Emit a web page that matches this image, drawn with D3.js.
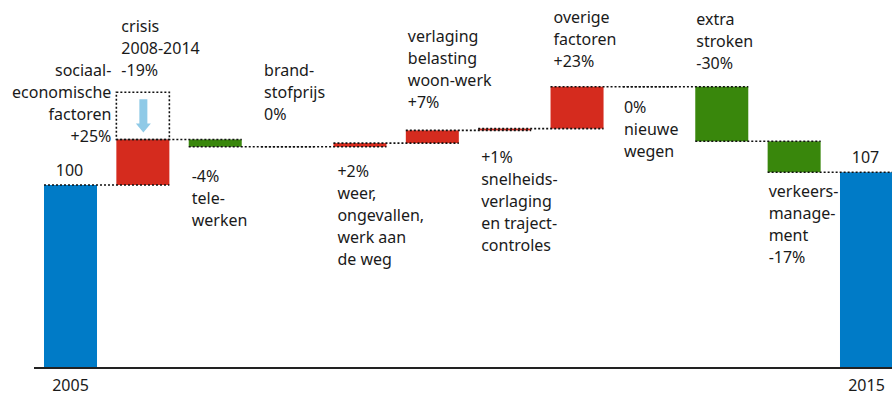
<!DOCTYPE html>
<html>
<head>
<meta charset="utf-8">
<script src="https://cdn.jsdelivr.net/npm/d3@7"></script>
<style>
  body { margin: 0; background: #fff; }
  svg { display: block; }
  text { font-family: "Noto Sans", sans-serif; font-size: 16px; fill: #1a1a1a; }
</style>
</head>
<body>
<svg id="chart" width="892" height="396"></svg>
<script>
// Waterfall: traffic volume index 2005 = 100 -> 2015 = 107
const steps   = ["2005", "sociaal", "tele", "brandstof", "weer", "belasting", "snelheid", "overige", "nieuwe", "stroken", "verkeer", "2015"];
const changes = [100, 25, -4, 0, 2, 7, 1, 23, 0, -30, -17, 107];   // first and last are totals
const kinds   = ["total", "step", "step", "step", "step", "step", "step", "step", "step", "step", "step", "total"];
const yearLabels = ["2005", "", "", "", "", "", "", "", "", "", "", "2015"];

// Crisis effect shown as a ghost box above the socio-economic step
const crisisLabel = ["crisis", "2008-2014", "-19%"];
const crisisBoxTop = 151;

const stepLabels = {
  sociaal:   ["sociaal-", "economische", "factoren", "+25%"],
  tele:      ["-4%", "tele-", "werken"],
  brandstof: ["brand-", "stofprijs", "0%"],
  weer:      ["+2%", "weer,", "ongevallen,", "werk aan", "de weg"],
  belasting: ["verlaging", "belasting", "woon-werk", "+7%"],
  snelheid:  ["+1%", "snelheids-", "verlaging", "en traject-", "controles"],
  overige:   ["overige", "factoren", "+23%"],
  nieuwe:    ["0%", "nieuwe", "wegen"],
  stroken:   ["extra", "stroken", "-30%"],
  verkeer:   ["verkeers-", "manage-", "ment", "-17%"]
};

// ---- layout ----
const W = 892, H = 396;
const colors = { total: "#007bc7", up: "#d52b1e", down: "#39870c", arrow: "#8fcae7" };
const lineH = 22;
// label placement: offset from band start, first baseline, anchor
const labelPos = {
  sociaal:   { dx: -5, y: 76,  anchor: "end" },
  tele:      { dx: 3,  y: 182 },
  brandstof: { dx: 3,  y: 76 },
  weer:      { dx: 4,  y: 177 },
  belasting: { dx: 2,  y: 42 },
  snelheid:  { dx: 3,  y: 163 },
  overige:   { dx: 3,  y: 23 },
  nieuwe:    { dx: 1,  y: 113 },
  stroken:   { dx: 1,  y: 25 },
  verkeer:   { dx: 1,  y: 197 }
};

const svg = d3.select("#chart");

const x = d3.scaleBand().domain(steps).range([44, 893]).paddingInner(0.2675).paddingOuter(0);
const y = d3.scaleLinear().domain([0, 100]).range([367, 185]);

// cumulative levels
let level = 0;
const bars = steps.map((s, i) => {
  let from, to;
  if (kinds[i] === "total") { from = 0; to = changes[i]; level = changes[i]; }
  else { from = level; to = level + changes[i]; level = to; }
  return { key: s, from, to, level: to, change: changes[i], kind: kinds[i] };
});

// bars
svg.append("g").selectAll("rect")
  .data(bars.filter(d => d.from !== d.to))
  .join("rect")
  .attr("x", d => x(d.key))
  .attr("width", x.bandwidth())
  .attr("y", d => y(Math.max(d.from, d.to)))
  .attr("height", d => Math.abs(y(d.from) - y(d.to)))
  .attr("fill", d => d.kind === "total" ? colors.total : (d.change > 0 ? colors.up : colors.down));

// baseline
svg.append("line")
  .attr("x1", 34).attr("x2", W)
  .attr("y1", y(0) + 1).attr("y2", y(0) + 1)
  .attr("stroke", "#222").attr("stroke-width", 2);

// dotted connectors from each bar to the next
const dash = { stroke: "#111", "stroke-width": 1.6, "stroke-dasharray": "2,2" };
const conn = svg.append("g");
bars.slice(0, -1).forEach((d, i) => {
  const next = steps[i + 1];
  const l = conn.append("line")
    .attr("x1", x(d.key)).attr("x2", x(next) + x.bandwidth())
    .attr("y1", y(d.level)).attr("y2", y(d.level));
  Object.entries(dash).forEach(([k, v]) => l.attr(k, v));
});

// crisis ghost box above the socio-economic step
const soc = bars[1];
const box = svg.append("rect")
  .attr("x", x("sociaal")).attr("width", x.bandwidth())
  .attr("y", y(crisisBoxTop)).attr("height", y(soc.to) - y(crisisBoxTop))
  .attr("fill", "none");
Object.entries(dash).forEach(([k, v]) => box.attr(k, v));

// downward arrow inside the box
const cx = x("sociaal") + x.bandwidth() / 2 + 0.5;
const aTop = y(crisisBoxTop) + 7, aTip = y(soc.to) - 7, headH = 9;
svg.append("path")
  .attr("d", `M${cx - 4},${aTop} L${cx + 4},${aTop} L${cx + 4},${aTip - headH} L${cx + 7.5},${aTip - headH}
              L${cx},${aTip} L${cx - 7.5},${aTip - headH} L${cx - 4},${aTip - headH} Z`)
  .attr("fill", colors.arrow);

// multi-line labels
function block(lines, px, py, anchor) {
  const t = svg.append("text").attr("text-anchor", anchor || "start");
  lines.forEach((s, i) => t.append("tspan").attr("x", px).attr("y", py + i * lineH).text(s));
}
Object.entries(stepLabels).forEach(([k, lines]) => {
  const p = labelPos[k];
  block(lines, x(k) + p.dx, p.y, p.anchor);
});
block(crisisLabel, x("sociaal") + 5, 32);

// total values above the end bars
[bars[0], bars[bars.length - 1]].forEach(d => {
  svg.append("text")
    .attr("x", x(d.key) + x.bandwidth() / 2 - 1)
    .attr("y", y(d.to) - 9)
    .attr("text-anchor", "middle")
    .text(d.to);
});

// year labels under the axis
const axis = d3.axisBottom(x).tickSize(0).tickValues(["2005", "2015"])
  .tickFormat((d) => yearLabels[steps.indexOf(d)]);
const ax = svg.append("g").attr("transform", `translate(0,${y(0) + 1})`).call(axis);
ax.select(".domain").remove();
ax.selectAll("text")
  .attr("y", 23).attr("dy", 0)
  .style("font-family", "\"Noto Sans\", sans-serif").style("font-size", "16px").style("fill", "#1a1a1a");
</script>
</body>
</html>
